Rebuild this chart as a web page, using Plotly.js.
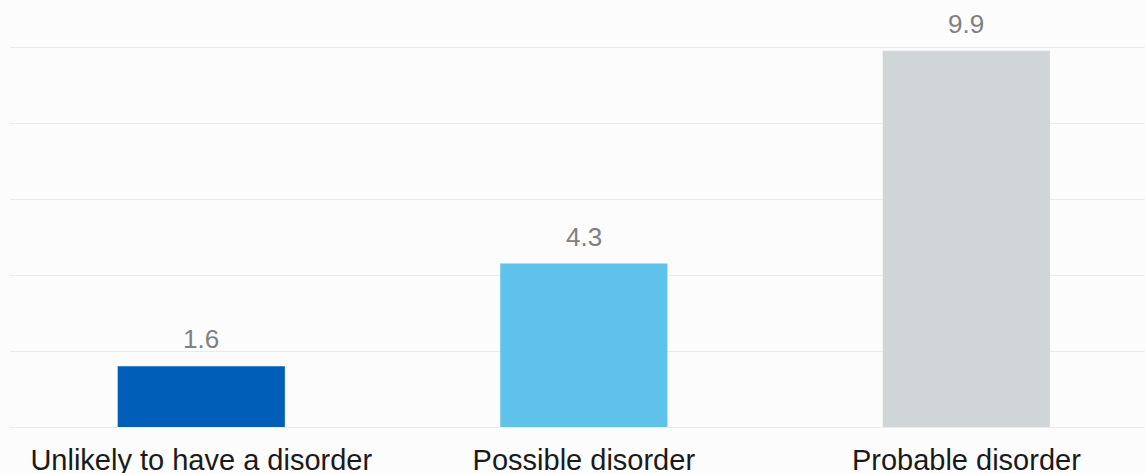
<!DOCTYPE html>
<html>
<head>
<meta charset="utf-8">
<script src="https://cdn.plot.ly/plotly-3.0.1.min.js"></script>
<style>html,body{margin:0;padding:0;background:#fcfcfc;}#chart{width:1145px;height:473px;}</style>
</head>
<body>
<div id="chart"></div>
<script>
const categories = ["Unlikely to have a disorder", "Possible disorder", "Probable disorder"];
const values = [1.6, 4.3, 9.9];
const valueLabels = ["1.6", "4.3", "9.9"];
const barColors = ["#005eb8", "#5fc2ea", "#d0d6d7"];

const trace = {
  type: "bar",
  x: categories,
  y: values,
  marker: {color: barColors},
  width: 0.437,
  hoverinfo: "skip"
};

const annotations = categories.map((c, i) => ({
  x: c, y: values[i], xref: "x", yref: "y",
  text: valueLabels[i], showarrow: false,
  yanchor: "bottom", yshift: 10,
  font: {family: "Liberation Sans, Arial, sans-serif", size: 26, color: "#808080"}
}));

const layout = {
  width: 1145, height: 473,
  margin: {l: 10, r: 0, t: 0, b: 46, pad: 0},
  paper_bgcolor: "#fcfcfc",
  plot_bgcolor: "#fcfcfc",
  showlegend: false,
  xaxis: {
    range: [-0.5, 2.467],
    showgrid: false, zeroline: false, showline: false,
    ticks: "",
    ticklabelstandoff: 13,
    tickfont: {family: "Liberation Sans, Arial, sans-serif", size: 29, color: "#1a1a1a"},
    automargin: false
  },
  yaxis: {
    range: [0, 11.237],
    dtick: 2, tick0: 0,
    showticklabels: false,
    showgrid: true, gridcolor: "#ebebeb", gridwidth: 1,
    zeroline: true, zerolinecolor: "#ebebeb", zerolinewidth: 1,
    showline: false, ticks: "",
    automargin: false
  },
  annotations: annotations
};

Plotly.newPlot("chart", [trace], layout, {displayModeBar: false, staticPlot: true});
</script>
</body>
</html>
